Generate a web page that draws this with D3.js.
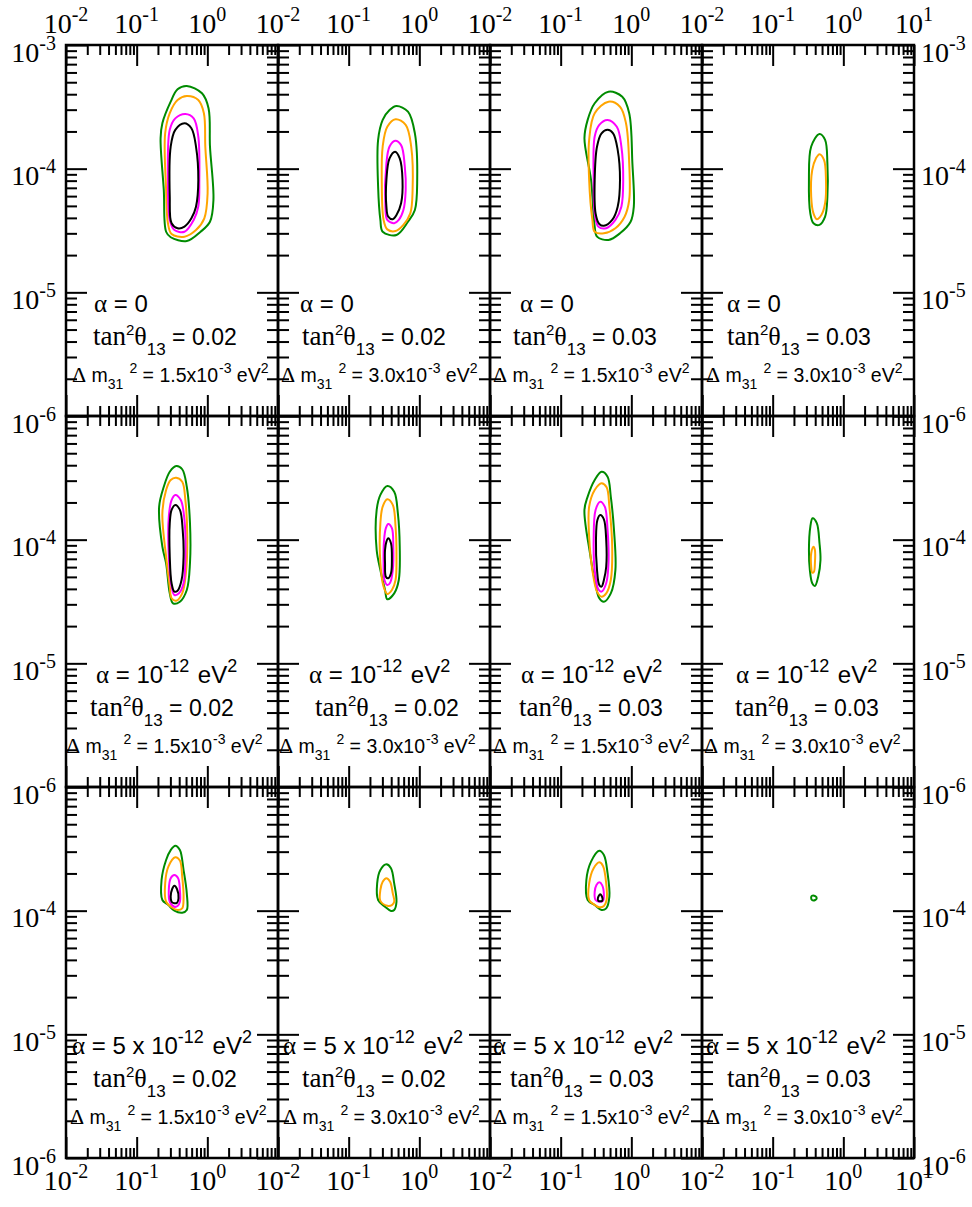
<!DOCTYPE html>
<html>
<head>
<meta charset="utf-8">
<script src="https://cdn.jsdelivr.net/npm/d3@7"></script>
<style>
  body { margin: 0; background: #fff; }
  svg text { fill: #000; white-space: pre; }
  .serif { font-family: "Liberation Serif", "Times New Roman", serif; }
  .sans { font-family: "Liberation Sans", Arial, sans-serif; }
</style>
</head>
<body>
<svg id="chart"></svg>
<script>
/* ------------------------------ Data ------------------------------ */
// panel labels
const alphaLabels = [["0"], ["10", "-12"], ["5 x 10", "-12"]];   // per row
const tan13Values = ["0.02", "0.02", "0.03", "0.03"];           // per column
const dm31Values = ["1.5", "3.0", "1.5", "3.0"];                // per column

// axis ticks
const xMajor = [1e-2, 1e-1, 1, 10];
const yMajor = [1e-6, 1e-5, 1e-4, 1e-3];
const minorMult = [2, 3, 4, 5, 6, 7, 8, 9];

// contours [x, y], row r / column c
// row 1: alpha = 0
const r1c1Green = [[0.512,4.66e-4],[0.840,4.07e-4],[1.04,3.08e-4],[1.09,1.51e-4],[1.22,5.58e-5],[1.09,3.72e-5],[0.803,3.09e-5],[0.512,2.60e-5],[0.303,2.79e-5],[0.261,3.09e-5],[0.242,6.73e-5],[0.218,1.76e-4],[0.231,2.33e-4],[0.303,3.48e-4],[0.379,4.38e-4]];
const r1c1Orange = [[0.512,3.87e-4],[0.745,3.59e-4],[0.894,2.81e-4],[0.936,1.51e-4],[1.009,6.32e-5],[0.906,3.97e-5],[0.691,3.19e-5],[0.475,2.82e-5],[0.312,2.96e-5],[0.277,3.62e-5],[0.261,6.73e-5],[0.253,1.93e-4],[0.294,2.81e-4],[0.379,3.59e-4]];
const r1c1Magenta = [[0.489,2.77e-4],[0.641,2.55e-4],[0.745,1.82e-4],[0.770,8.10e-5],[0.745,4.93e-5],[0.641,3.85e-5],[0.475,3.09e-5],[0.342,3.19e-5],[0.294,3.85e-5],[0.277,8.10e-5],[0.294,2.06e-4],[0.352,2.55e-4]];
const r1c1Black = [[0.475,2.33e-4],[0.595,2.12e-4],[0.691,1.51e-4],[0.745,8.10e-5],[0.691,4.93e-5],[0.595,3.97e-5],[0.475,3.40e-5],[0.379,3.30e-5],[0.312,3.62e-5],[0.294,5.93e-5],[0.303,1.51e-4],[0.352,2.06e-4]];

const r1c2Green = [[0.475,3.21e-4],[0.691,2.89e-4],[0.865,1.93e-4],[0.933,8.1e-5],[0.865,4.63e-5],[0.691,3.72e-5],[0.475,2.91e-5],[0.303,3.09e-5],[0.281,3.85e-5],[0.261,7.15e-5],[0.261,1.71e-4],[0.303,2.48e-4],[0.379,2.98e-4]];
const r1c2Orange = [[0.461,2.51e-4],[0.641,2.26e-4],[0.767,1.51e-4],[0.803,6.73e-5],[0.745,4.35e-5],[0.595,3.51e-5],[0.461,3.13e-5],[0.352,3.23e-5],[0.312,3.85e-5],[0.294,8.1e-5],[0.303,1.51e-4],[0.352,2.18e-4]];
const r1c2Magenta = [[0.454,1.68e-4],[0.552,1.55e-4],[0.623,1.04e-4],[0.641,6.73e-5],[0.595,4.63e-5],[0.512,3.85e-5],[0.441,3.62e-5],[0.352,3.85e-5],[0.331,4.93e-5],[0.342,1.105e-4],[0.379,1.51e-4]];
const r1c2Black = [[0.454,1.37e-4],[0.528,1.21e-4],[0.578,8.1e-5],[0.552,5.25e-5],[0.475,4.22e-5],[0.421,3.9e-5],[0.363,4.09e-5],[0.342,4.93e-5],[0.342,8.1e-5],[0.379,1.21e-4]];

const r1c3Green = [[0.475,4.19e-4],[0.745,3.82e-4],[0.933,2.81e-4],[1.035,1.105e-4],[1.084,4.93e-5],[0.976,3.72e-5],[0.691,3.0e-5],[0.475,2.65e-5],[0.327,2.82e-5],[0.303,3.4e-5],[0.269,8.1e-5],[0.217,1.76e-4],[0.241,2.48e-4],[0.303,3.38e-4]];
const r1c3Orange = [[0.475,3.48e-4],[0.691,3.17e-4],[0.840,2.33e-4],[0.933,1.105e-4],[0.933,5.58e-5],[0.803,4.09e-5],[0.595,3.3e-5],[0.409,3.0e-5],[0.303,3.09e-5],[0.281,3.85e-5],[0.253,8.1e-5],[0.253,1.71e-4],[0.303,2.81e-4]];
const r1c3Magenta = [[0.461,2.48e-4],[0.623,2.18e-4],[0.723,1.51e-4],[0.767,8.1e-5],[0.723,4.93e-5],[0.595,3.85e-5],[0.441,3.3e-5],[0.341,3.4e-5],[0.303,4.35e-5],[0.293,8.1e-5],[0.303,1.82e-4],[0.352,2.26e-4]];
const r1c3Black = [[0.461,2.06e-4],[0.552,1.93e-4],[0.641,1.42e-4],[0.691,8.1e-5],[0.641,4.93e-5],[0.536,3.85e-5],[0.409,3.45e-5],[0.352,3.57e-5],[0.312,4.35e-5],[0.303,8.1e-5],[0.327,1.51e-4],[0.379,1.93e-4]];

const r1c4Green = [[0.46,1.91e-4],[0.552,1.71e-4],[0.595,1.105e-4],[0.595,5.93e-5],[0.552,4.09e-5],[0.46,3.51e-5],[0.378,3.62e-5],[0.341,4.35e-5],[0.326,8.1e-5],[0.351,1.51e-4]];
const r1c4Orange = [[0.46,1.31e-4],[0.534,1.175e-4],[0.568,8.1e-5],[0.552,5.25e-5],[0.489,4.22e-5],[0.421,3.9e-5],[0.378,4.35e-5],[0.351,5.93e-5],[0.363,9.76e-5],[0.409,1.21e-4]];

// row 2: alpha = 1e-12 eV^2
const r2c1Green = [[0.363,3.94e-4],[0.441,3.71e-4],[0.512,2.68e-4],[0.568,1.36e-4],[0.568,6.44e-5],[0.512,3.92e-5],[0.409,3.15e-5],[0.327,3.06e-5],[0.294,3.68e-5],[0.261,6.44e-5],[0.231,8.77e-5],[0.208,1.85e-4],[0.242,2.68e-4],[0.294,3.54e-4]];
const r2c1Orange = [[0.363,3.17e-4],[0.441,2.94e-4],[0.489,2.09e-4],[0.52,1.057e-4],[0.497,5.35e-5],[0.441,3.68e-5],[0.363,3.21e-5],[0.312,3.36e-5],[0.294,4.17e-5],[0.261,7.28e-5],[0.231,1.63e-4],[0.261,2.52e-4],[0.303,3.04e-4]];
const r2c1Magenta = [[0.352,2.3e-4],[0.421,2.09e-4],[0.475,1.44e-4],[0.489,7.28e-5],[0.461,4.44e-5],[0.397,3.68e-5],[0.342,3.57e-5],[0.312,4.17e-5],[0.285,7.28e-5],[0.285,1.53e-4],[0.312,2.09e-4]];
const r2c1Black = [[0.352,1.91e-4],[0.409,1.74e-4],[0.448,1.2e-4],[0.461,7.28e-5],[0.432,4.72e-5],[0.379,3.87e-5],[0.342,3.8e-5],[0.312,4.44e-5],[0.294,7.28e-5],[0.294,1.36e-4],[0.312,1.74e-4]];

const r2c2Green = [[0.352,2.72e-4],[0.441,2.44e-4],[0.497,1.63e-4],[0.528,8.77e-5],[0.512,4.72e-5],[0.441,3.68e-5],[0.352,3.3e-5],[0.327,3.92e-5],[0.281,5.68e-5],[0.249,8.25e-5],[0.249,1.74e-4],[0.281,2.3e-4]];
const r2c2Orange = [[0.352,2.12e-4],[0.421,1.91e-4],[0.461,1.27e-4],[0.475,7.28e-5],[0.461,4.72e-5],[0.409,3.92e-5],[0.352,3.64e-5],[0.312,4.17e-5],[0.281,6.44e-5],[0.281,1.36e-4],[0.303,1.85e-4]];
const r2c2Magenta = [[0.363,1.34e-4],[0.409,1.24e-4],[0.428,8.77e-5],[0.421,5.68e-5],[0.386,4.49e-5],[0.352,4.3e-5],[0.321,4.72e-5],[0.312,6.44e-5],[0.317,9.94e-5],[0.336,1.24e-4]];
const r2c2Black = [[0.363,1.026e-4],[0.397,9.35e-5],[0.409,6.85e-5],[0.397,5.35e-5],[0.363,4.87e-5],[0.336,5.02e-5],[0.327,6.44e-5],[0.327,8.25e-5],[0.342,9.63e-5]];

const r2c3Green = [[0.379,3.54e-4],[0.461,3.23e-4],[0.512,2.23e-4],[0.568,1.2e-4],[0.595,5.68e-5],[0.512,3.68e-5],[0.409,3.15e-5],[0.352,3.36e-5],[0.303,4.72e-5],[0.26,7.76e-5],[0.217,1.74e-4],[0.241,2.23e-4],[0.303,3.04e-4]];
const r2c3Orange = [[0.379,2.86e-4],[0.447,2.65e-4],[0.489,1.85e-4],[0.536,8.77e-5],[0.512,4.72e-5],[0.441,3.68e-5],[0.379,3.46e-5],[0.327,3.8e-5],[0.281,5.68e-5],[0.253,1.057e-4],[0.253,1.85e-4],[0.303,2.52e-4]];
const r2c3Magenta = [[0.363,2.03e-4],[0.421,1.85e-4],[0.461,1.2e-4],[0.475,6.44e-5],[0.441,4.44e-5],[0.379,3.8e-5],[0.341,3.97e-5],[0.303,5.68e-5],[0.293,9.94e-5],[0.312,1.74e-4]];
const r2c3Black = [[0.363,1.58e-4],[0.409,1.46e-4],[0.441,9.94e-5],[0.441,6.04e-5],[0.409,4.72e-5],[0.379,4.17e-5],[0.352,4.3e-5],[0.327,5.68e-5],[0.316,9.94e-5],[0.331,1.44e-4]];

const r2c4Green = [[0.367,1.49e-4],[0.421,1.36e-4],[0.46,9.35e-5],[0.475,6.85e-5],[0.441,5.02e-5],[0.396,4.22e-5],[0.363,4.44e-5],[0.336,5.68e-5],[0.326,8.25e-5],[0.341,1.27e-4]];
const r2c4Orange = [[0.378,8.77e-5],[0.396,8.25e-5],[0.396,6.44e-5],[0.384,5.51e-5],[0.363,5.41e-5],[0.351,6.04e-5],[0.351,7.76e-5]];

// row 3: alpha = 5e-12 eV^2
const r3c1Green = [[0.352,3.35e-4],[0.409,3.09e-4],[0.461,2.13e-4],[0.512,1.38e-4],[0.512,1.012e-4],[0.441,9.63e-5],[0.342,9.99e-5],[0.281,1.11e-4],[0.231,1.22e-4],[0.225,1.77e-4],[0.261,2.57e-4],[0.303,3.09e-4]];
const r3c1Orange = [[0.352,2.7e-4],[0.409,2.54e-4],[0.441,1.88e-4],[0.461,1.3e-4],[0.441,1.045e-4],[0.379,1.012e-4],[0.312,1.065e-4],[0.261,1.18e-4],[0.253,1.66e-4],[0.281,2.27e-4]];
const r3c1Magenta = [[0.342,1.94e-4],[0.386,1.83e-4],[0.409,1.47e-4],[0.409,1.18e-4],[0.379,1.09e-4],[0.342,1.076e-4],[0.294,1.18e-4],[0.285,1.47e-4],[0.303,1.83e-4]];
const r3c1Black = [[0.342,1.59e-4],[0.373,1.49e-4],[0.391,1.26e-4],[0.373,1.16e-4],[0.342,1.147e-4],[0.312,1.18e-4],[0.303,1.3e-4],[0.317,1.49e-4]];

const r3c2Green = [[0.342,2.37e-4],[0.397,2.2e-4],[0.441,1.66e-4],[0.475,1.18e-4],[0.441,1.012e-4],[0.397,9.94e-5],[0.327,1.076e-4],[0.261,1.22e-4],[0.253,1.66e-4],[0.281,2.13e-4]];
const r3c2Orange = [[0.342,1.83e-4],[0.386,1.71e-4],[0.421,1.38e-4],[0.441,1.18e-4],[0.409,1.11e-4],[0.352,1.097e-4],[0.281,1.2e-4],[0.281,1.47e-4],[0.303,1.71e-4]];

const r3c3Green = [[0.352,3.05e-4],[0.409,2.82e-4],[0.461,2.01e-4],[0.489,1.3e-4],[0.441,1.045e-4],[0.379,1.012e-4],[0.303,1.11e-4],[0.241,1.22e-4],[0.231,1.77e-4],[0.269,2.49e-4]];
const r3c3Orange = [[0.352,2.46e-4],[0.397,2.3e-4],[0.441,1.66e-4],[0.447,1.22e-4],[0.409,1.09e-4],[0.352,1.065e-4],[0.293,1.13e-4],[0.253,1.22e-4],[0.253,1.66e-4],[0.293,2.2e-4]];
const r3c3Magenta = [[0.352,1.7e-4],[0.386,1.61e-4],[0.409,1.34e-4],[0.397,1.2e-4],[0.352,1.18e-4],[0.312,1.22e-4],[0.303,1.42e-4],[0.321,1.61e-4]];
const r3c3Black = [[0.363,1.36e-4],[0.391,1.26e-4],[0.386,1.2e-4],[0.342,1.2e-4],[0.336,1.26e-4]];

const r3c4Green = [[0.36,1.32e-4],[0.40,1.31e-4],[0.42,1.26e-4],[0.40,1.22e-4],[0.36,1.22e-4],[0.35,1.27e-4]];

/* ----------------------------- Layout ----------------------------- */
const width = 972, height = 1207;
const gridLeft = 66, gridTop = 45, pw = 212, ph = 371;
const colors = { green: "#008b00", orange: "#ffa500", magenta: "#ff00ff", black: "#000000" };

// where each annotation starts, offset from the panel's left edge [row][col]
const alphaX = [[28, 22, 30, 25], [30, 31, 31, 34], [6, 5, 3, 4]];
const tanX = [[27, 24, 23, 25], [24, 37, 29, 33], [27, 24, 20, 25]];
const dmX = [[6, 3, 3, 4], [0, 1, 3, 2], [4, 5, 3, 4]];

const panels = [
  [[r1c1Green, r1c1Orange, r1c1Magenta, r1c1Black], [r1c2Green, r1c2Orange, r1c2Magenta, r1c2Black],
   [r1c3Green, r1c3Orange, r1c3Magenta, r1c3Black], [r1c4Green, r1c4Orange]],
  [[r2c1Green, r2c1Orange, r2c1Magenta, r2c1Black], [r2c2Green, r2c2Orange, r2c2Magenta, r2c2Black],
   [r2c3Green, r2c3Orange, r2c3Magenta, r2c3Black], [r2c4Green, r2c4Orange]],
  [[r3c1Green, r3c1Orange, r3c1Magenta, r3c1Black], [r3c2Green, r3c2Orange],
   [r3c3Green, r3c3Orange, r3c3Magenta, r3c3Black], [r3c4Green]]
];
const levelColors = [colors.green, colors.orange, colors.magenta, colors.black];

const xMinor = xMajor.slice(0, -1).flatMap(d => minorMult.map(m => m * d));
const yMinor = yMajor.slice(0, -1).flatMap(d => minorMult.map(m => m * d));

const svg = d3.select("#chart").attr("width", width).attr("height", height);

// text with sub/superscripts: parts = [text, class, size, shift, dx]
function rich(g, x, y, parts) {
  const t = g.append("text").attr("x", x).attr("y", y);
  let cur = 0;
  parts.forEach(([s, cls, size, shift, dx]) => {
    t.append("tspan").attr("class", cls).style("font-size", size + "px")
      .attr("dy", shift - cur).attr("dx", dx || 0).text(s);
    cur = shift;
  });
  return t;
}

function powLabel(x, y, v, anchor) {
  const e = Math.round(Math.log10(v));
  rich(svg, x, y, [["10", "serif", 28, 0], [String(e), "serif", 20, -12]])
    .attr("text-anchor", anchor);
}

/* ----------------------------- Panels ----------------------------- */
panels.forEach((row, r) => {
  row.forEach((levels, c) => {
    const x0 = gridLeft + c * pw, y0 = gridTop + r * ph;
    const x = d3.scaleLog().domain([1e-2, 10]).range([x0, x0 + pw]);
    const y = d3.scaleLog().domain([1e-6, 1e-3]).range([y0 + ph, y0]);
    const g = svg.append("g");

    // contours
    const line = d3.line().x(d => x(d[0])).y(d => y(d[1])).curve(d3.curveCatmullRomClosed.alpha(0.5));
    levels.forEach((pts, i) => {
      g.append("path").attr("d", line(pts)).attr("fill", "none")
        .attr("stroke", levelColors[i]).attr("stroke-width", 2);
    });

    // inward ticks on all four sides
    const tickG = (axis, tx, ty) => g.append("g").attr("transform", `translate(${tx},${ty})`)
      .call(axis)
      .call(s => {
        s.select(".domain").remove();
        s.selectAll("text").remove();
        s.selectAll("line").attr("stroke", "#000").attr("stroke-width", 2);
      });
    [[xMinor, 10], [xMajor, 21]].forEach(([vals, len]) => {
      tickG(d3.axisBottom(x).tickValues(vals).tickSize(len).tickFormat(""), 0, y0);
      tickG(d3.axisTop(x).tickValues(vals).tickSize(len).tickFormat(""), 0, y0 + ph);
    });
    [[yMinor, 11], [yMajor, 21]].forEach(([vals, len]) => {
      tickG(d3.axisRight(y).tickValues(vals).tickSize(len).tickFormat(""), x0, 0);
      tickG(d3.axisLeft(y).tickValues(vals).tickSize(len).tickFormat(""), x0 + pw, 0);
    });

    g.append("rect").attr("x", x0).attr("y", y0).attr("width", pw).attr("height", ph)
      .attr("fill", "none").attr("stroke", "#000").attr("stroke-width", 2.5);

    // annotations
    const a = alphaLabels[r];
    const alphaParts = [["α", "serif", 25, 0], [" = " + a[0], "sans", 24, 0]];
    if (a.length > 1) {
      alphaParts.push([a[1], "sans", 18, -11], [" eV", "sans", 24, 0, 2], ["2", "sans", 18, -11]);
    }
    rich(g, x0 + alphaX[r][c], y0 + 267, alphaParts);
    rich(g, x0 + tanX[r][c], y0 + 300, [
      ["tan", "serif", 27, 0], ["2", "sans", 15, -10], ["θ", "serif", 26, 0],
      ["13", "sans", 17, 10], [" = " + tan13Values[c], "sans", 23, 0]
    ]);
    rich(g, x0 + dmX[r][c], y0 + 337, [
      ["Δ", "serif", 22, 0], [" m", "sans", 19.5, 0], ["31", "sans", 14, 7], ["2", "sans", 14, -9, 6],
      [" = " + dm31Values[c] + "x10", "sans", 19.5, 0], ["-3", "sans", 14, -9, 1], [" eV", "sans", 19.5, 0], ["2", "sans", 14, -9]
    ]);

    // tick labels on the outer edges
    if (r === 0 || r === 2) {
      const ly = r === 0 ? 33 : 1190;
      xMajor.forEach(v => {
        if (v === 10 && c < 3) return;
        powLabel(x(v), ly, v, "middle");
      });
    }
    if (c === 0 || c === 3) {
      yMajor.forEach(v => {
        if (v === 1e-3 && r > 0) return;
        powLabel(c === 0 ? 56 : 921, y(v) + 16.5, v, c === 0 ? "end" : "start");
      });
    }
  });
});
</script>
</body>
</html>
